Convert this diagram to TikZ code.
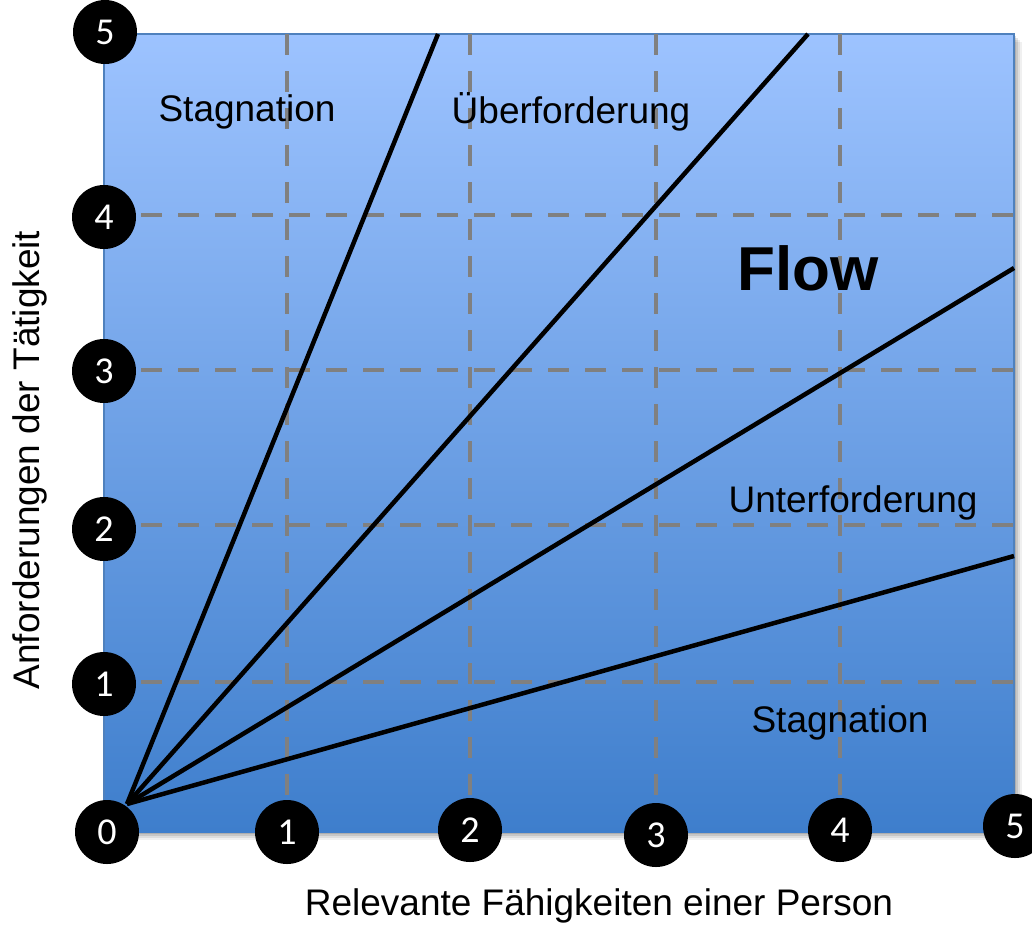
\documentclass[tikz,border=0pt]{standalone}
\usepackage{fontspec}
\setmainfont{Liberation Sans}
\newfontfamily\tickfont{Carlito}
\definecolor{topblue}{RGB}{157,195,255}
\definecolor{botblue}{RGB}{62,126,204}
\definecolor{edgeblue}{RGB}{79,129,189}
\definecolor{gridgray}{RGB}{128,128,128}
\begin{document}
\begin{tikzpicture}[x=1pt,y=-1pt,
  tick/.style={circle,fill=black,minimum size=64pt,inner sep=0pt,text=white,font=\tickfont\fontsize{38}{40}\selectfont},
  gridline/.style={gridgray,line width=4pt,dash pattern=on 21pt off 16pt},
  zone/.style={font=\fontsize{37}{44}\selectfont,inner sep=0pt},
  bound/.style={black,line width=4.5pt}]
\useasboundingbox (0,0) rectangle (1032,924);
% shadow
\foreach \o/\a in {8/0.06,6/0.08,4/0.10,2/0.12}{
  \fill[black,opacity=\a] (104+\o,34+\o) rectangle (1014+\o,832+\o);
}
\shade[top color=topblue,bottom color=botblue] (104,34) rectangle (1014,832);
\draw[edgeblue,line width=1.5pt] (104,832) -- (104,34) -- (1014,34) -- (1014,832);
% grid
\foreach \x in {287,470,656,840}{
  \draw[gridline] (\x,34) -- (\x,832);
}
\foreach \y in {215,370,525,682}{
  \draw[gridline] (104,\y) -- (1014,\y);
}
% boundary lines
\coordinate (o) at (127,804);
\coordinate (e1) at (438,34);
\coordinate (e2) at (808,34);
\coordinate (e3) at (1014,268);
\coordinate (e4) at (1014,556);
\draw[bound] (o) -- (e1);
\draw[bound] (o) -- (e2);
\draw[bound] (o) -- (e3);
\draw[bound] (o) -- (e4);
% labels
\node[zone] (stag1) at (247,112) {Stagnation};
\node[zone] (ueber) at (571,112) {Überforderung};
\node[zone,font=\fontsize{62}{70}\selectfont\bfseries] (flow) at (808,268) {Flow};
\node[zone] (unter) at (853,503) {Unterforderung};
\node[zone] (stag2) at (840,723) {Stagnation};
\node[zone] (xlab) at (599,906) {Relevante Fähigkeiten einer Person};
\node[zone,rotate=90] (ylab) at (30,460) {Anforderungen der Tätigkeit};
% ticks
\node[tick] (y5) at (105,32) {5};
\node[tick] (y4) at (104,217) {4};
\node[tick] (y3) at (104,371) {3};
\node[tick] (y2) at (104,529) {2};
\node[tick] (y1) at (104,684) {1};
\node[tick] (x0) at (107,832) {0};
\node[tick] (x1) at (287,832) {1};
\node[tick] (x2) at (470,830) {2};
\node[tick] (x3) at (656,835) {3};
\node[tick] (x4) at (840,830) {4};
\node[tick] (x5) at (1015,826) {5};
\end{tikzpicture}
\end{document}
